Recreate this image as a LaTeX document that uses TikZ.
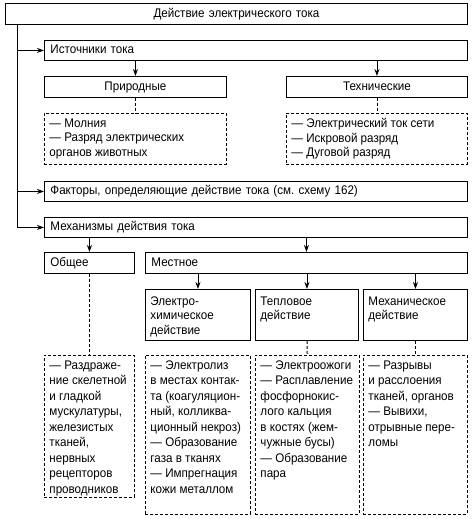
\documentclass[tikz,border=0pt]{standalone}
\usepackage{fontspec}
\setmainfont{Liberation Sans}[FakeStretch=0.93]
\usepackage{tikz}
\usetikzlibrary{arrows, arrows.meta}
\tikzstyle{block} = [rectangle, draw=black, line width=0.9pt, anchor=north west, inner xsep=6pt, inner ysep=0pt, minimum height=20pt, text height=9pt, text depth=2pt, align=left]
\tikzstyle{arrow} = [line width=0.9pt,->,>={Stealth[length=7pt,width=5pt]}]
\tikzstyle{dline} = [line width=0.9pt, dash pattern=on 3pt off 2pt]
\newcommand{\cell}[3]{\parbox[t][#2][t]{#1}{\raggedright #3}}

\begin{document}
\frenchspacing
\begin{tikzpicture}[x=1pt,y=-1pt,font=\fontsize{12.5}{14.5}\selectfont]
    \tikzset{centred/.style = {block, align=center, minimum height=21pt},
    list/.style = {rectangle, draw=black, dline, anchor=north west, inner xsep=5pt, inner ysep=5pt},
    lowlist/.style = {list, font=\fontsize{12.5}{15.5}\selectfont},
    kind/.style = {rectangle, draw=black, line width=0.9pt, anchor=north west, inner xsep=5pt, inner ysep=7pt}}
\useasboundingbox (0,0) rectangle (474,519);

% top of the scheme
\node (title) [centred, text width=450pt] at (5,3) {Действие электрического тока};
\node (src) [block, text width=411pt] at (44,40) {Источники тока};
\node (prir) [centred, text width=170pt] at (44,76) {Природные};
\node (tech) [centred, text width=169pt] at (286,76) {Технические};
\node (prirlist) [list] at (44,113) {\cell{172pt}{41pt}{— Молния\\— Разряд электрических\\органов животных}};
\node (techlist) [list] at (286,113) {\cell{171pt}{41pt}{— Электрический ток сети\\— Искровой разряд\\— Дуговой разряд}};
\node (fact) [block, text width=411pt] at (44,181) {Факторы, определяющие действие тока (см. схему 162)};
\node (meh) [block, text width=411pt] at (44,217) {Механизмы действия тока};

% mechanisms
\node (gen) [block, text width=78pt, minimum height=21pt] at (44,252) {Общее};
\node (loc) [block, text width=310pt, minimum height=21pt] at (145,252) {Местное};
\node (chem) [kind] at (145,289) {\cell{95pt}{37pt}{Электро-\\химическое\\действие}};
\node (heat) [kind] at (255,289) {\cell{93pt}{37pt}{Тепловое\\действие}};
\node (mech) [kind] at (363,289) {\cell{94pt}{37pt}{Механическое\\действие}};

\node (genlist) [lowlist] at (44,355) {\cell{80pt}{132pt}{— Раздраже-\\ние скелетной\\и гладкой\\мускулатуры,\\железистых\\тканей,\\нервных\\рецепторов\\проводников}};
\node (chemlist) [lowlist] at (145,355) {\cell{95pt}{149pt}{— Электролиз\\в местах контак-\\та (коагуляцион-\\ный, колликва-\\ционный некроз)\\— Образование\\газа в тканях\\— Импрегнация\\кожи металлом}};
\node (heatlist) [lowlist] at (255,355) {\cell{94pt}{149pt}{— Электроожоги\\— Расплавление\\фосфорнокис-\\лого кальция\\в костях (жем-\\чужные бусы)\\— Образование\\пара}};
\node (mechlist) [lowlist] at (363,355) {\cell{94pt}{149pt}{— Разрывы\\и расслоения\\тканей, органов\\— Вывихи,\\отрывные пере-\\ломы}};

% left trunk
\coordinate (trunk) at (17,24);
\draw [arrow] (trunk) |- (meh.west);
\draw [arrow] (trunk |- src.west) -- (src.west);
\draw [arrow] (trunk |- fact.west) -- (fact.west);

\draw [arrow] (src.south -| prir.north) -- (prir.north);
\draw [arrow] (src.south -| tech.north) -- (tech.north);
\draw [dline] (prir) -- (prirlist);
\draw [dline] (tech) -- (techlist);

\draw [arrow] (meh.south -| gen.north) -- (gen.north);
\draw [arrow] (meh.south -| loc.north) -- (loc.north);
\draw [arrow] (loc.south -| chem.north) -- (chem.north);
\draw [arrow] (loc.south -| heat.north) -- (heat.north);
\draw [arrow] (loc.south -| mech.north) -- (mech.north);
\draw [dline] (gen) -- (genlist);
\draw [dline] (heat) -- (heatlist);
\draw [dline] (mech) -- (mechlist);

\end{tikzpicture}
\end{document}
